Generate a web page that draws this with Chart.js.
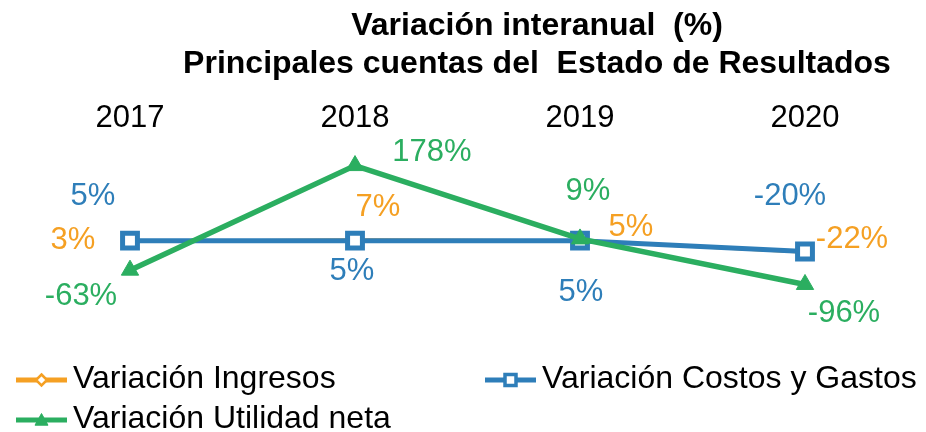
<!DOCTYPE html>
<html>
<head>
<meta charset="utf-8">
<script src="https://cdn.jsdelivr.net/npm/chart.js@4/dist/chart.umd.min.js"></script>
<style>
  html, body { margin: 0; padding: 0; background: #ffffff; }
  #wrap { width: 926px; height: 432px; }
</style>
</head>
<body>
<div id="wrap"><canvas id="c" width="926" height="432"></canvas></div>
<script>
// ---- data ----
const years = ['2017', '2018', '2019', '2020'];
const ingresos = [3, 7, 5, -22];
const costosGastos = [5, 5, 5, -20];
const utilidadNeta = [-63, 178, 9, -96];
const seriesNames = ['Variación Ingresos', 'Variación Costos y Gastos', 'Variación Utilidad neta'];
const titleLines = ['Variación interanual  (%)', 'Principales cuentas del  Estado de Resultados'];

// ---- styles ----
const FONT = '"Liberation Sans", Arial, Helvetica, sans-serif';
const ORANGE = '#F5A023';
const BLUE = '#2E7EB9';
const GREEN = '#2BAE60';

// label offsets (px) relative to each point, per dataset
const labelOffsets = [
  [[-57, -1], [23, -32], [51, -13], [47, -13]],
  [[-37, -44], [-3, 31], [1, 52], [-15, -55]],
  [[-49, 26], [77, -13], [8, -47], [39, 29]]
];

const titlePlugin = {
  id: 'customTitle',
  afterDraw(chart) {
    const ctx = chart.ctx;
    ctx.save();
    ctx.fillStyle = '#000';
    ctx.font = 'bold 32px ' + FONT;
    ctx.textAlign = 'center';
    ctx.textBaseline = 'alphabetic';
    ctx.fillText(titleLines[0], 537, 35);
    ctx.fillText(titleLines[1], 537, 73);
    ctx.restore();
  }
};

const labelPlugin = {
  id: 'pointLabels',
  afterDatasetsDraw(chart) {
    const ctx = chart.ctx;
    ctx.save();
    ctx.font = '31px ' + FONT;
    ctx.textAlign = 'center';
    ctx.textBaseline = 'middle';
    chart.data.datasets.forEach((ds, di) => {
      const meta = chart.getDatasetMeta(di);
      ctx.fillStyle = ds.labelColor;
      meta.data.forEach((pt, i) => {
        const off = labelOffsets[di][i];
        ctx.fillText(ds.data[i] + '%', pt.x + off[0], pt.y + off[1]);
      });
    });
    ctx.restore();
  }
};

function marker(ctx, style, x, y, r, fill, stroke, lw) {
  ctx.beginPath();
  if (style === 'rect') {
    ctx.rect(x - r, y - r, 2 * r, 2 * r);
  } else if (style === 'rectRot') {
    ctx.moveTo(x, y - r); ctx.lineTo(x + r, y); ctx.lineTo(x, y + r); ctx.lineTo(x - r, y); ctx.closePath();
  } else {
    ctx.moveTo(x, y - r); ctx.lineTo(x + r, y + r * 0.8); ctx.lineTo(x - r, y + r * 0.8); ctx.closePath();
  }
  ctx.fillStyle = fill; ctx.fill();
  ctx.lineWidth = lw; ctx.strokeStyle = stroke; ctx.stroke();
}

const legendPlugin = {
  id: 'customLegend',
  afterDraw(chart) {
    const ctx = chart.ctx;
    const items = [
      { x: 16, y: 379, ds: chart.data.datasets[0], m: 'rectRot', r: 5.5, fill: '#fff', lw: 2.5 },
      { x: 485, y: 379, ds: chart.data.datasets[1], m: 'rect', r: 5.5, fill: '#fff', lw: 3.5 },
      { x: 16, y: 419, ds: chart.data.datasets[2], m: 'tri', r: 6.5, fill: GREEN, lw: 1 }
    ];
    ctx.save();
    items.forEach(it => {
      ctx.strokeStyle = it.ds.borderColor;
      ctx.lineWidth = 5;
      ctx.beginPath();
      ctx.moveTo(it.x, it.y + 1);
      ctx.lineTo(it.x + 51, it.y + 1);
      ctx.stroke();
      marker(ctx, it.m, it.x + 25.5, it.y + 1, it.r, it.fill, it.ds.borderColor, it.lw);
      ctx.fillStyle = '#000';
      ctx.font = '32px ' + FONT;
      ctx.textAlign = 'left';
      ctx.textBaseline = 'middle';
      ctx.fillText(it.ds.label, it.x + 57, it.y);
    });
    ctx.restore();
  }
};

new Chart(document.getElementById('c'), {
  type: 'line',
  data: {
    labels: years,
    datasets: [
      {
        label: seriesNames[0], data: ingresos, order: 2,
        borderColor: ORANGE, backgroundColor: '#fff', borderWidth: 3,
        pointStyle: 'rectRot', pointRadius: 6, pointBorderWidth: 2.5,
        pointBackgroundColor: '#fff', pointBorderColor: ORANGE,
        labelColor: ORANGE, tension: 0, clip: false
      },
      {
        label: seriesNames[1], data: costosGastos, order: 1,
        borderColor: BLUE, backgroundColor: '#fff', borderWidth: 5,
        pointStyle: 'rect', pointRadius: 10.5, pointBorderWidth: 5,
        pointBackgroundColor: '#fff', pointBorderColor: BLUE,
        labelColor: BLUE, tension: 0, clip: false
      },
      {
        label: seriesNames[2], data: utilidadNeta, order: 0,
        borderColor: GREEN, backgroundColor: GREEN, borderWidth: 5.5,
        pointStyle: 'triangle', pointRadius: 10, pointBorderWidth: 1,
        pointBackgroundColor: GREEN, pointBorderColor: GREEN,
        labelColor: GREEN, tension: 0, clip: false
      }
    ]
  },
  options: {
    responsive: false,
    animation: false,
    devicePixelRatio: 1,
    layout: { padding: { top: 97, left: 130, right: 121, bottom: 92 } },
    plugins: {
      legend: { display: false },
      title: { display: false },
      tooltip: { enabled: false }
    },
    scales: {
      x: {
        position: 'top',
        offset: false,
        grid: { display: false, drawTicks: false },
        border: { display: false },
        ticks: { color: '#000', font: { family: FONT, size: 31 }, padding: 3, maxRotation: 0 }
      },
      y: {
        display: false,
        min: -224,
        max: 236.5
      }
    }
  },
  plugins: [titlePlugin, labelPlugin, legendPlugin]
});
</script>
</body>
</html>
